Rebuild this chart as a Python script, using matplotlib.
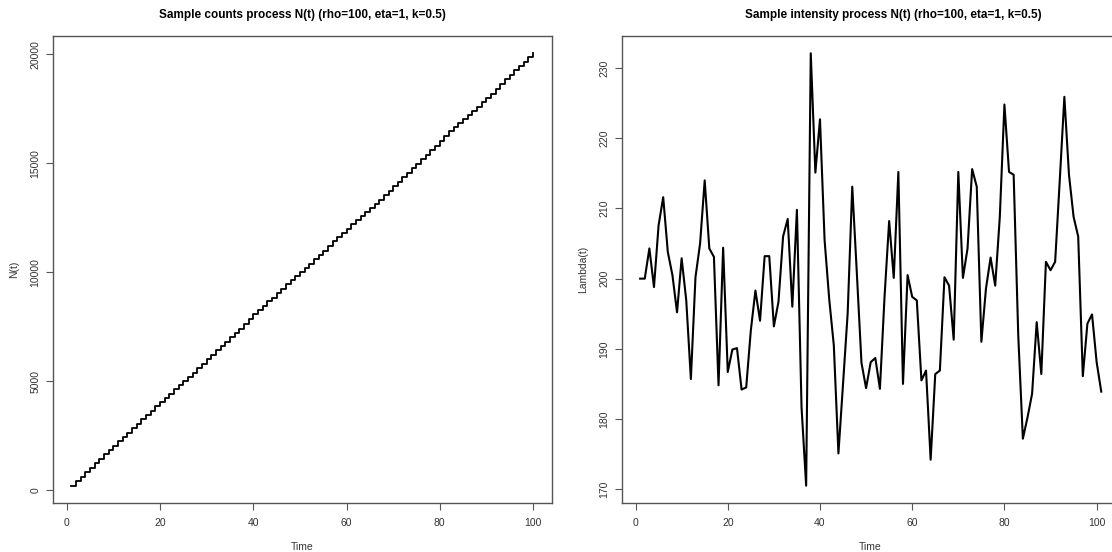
import matplotlib
matplotlib.use("Agg")
import matplotlib.pyplot as plt
import numpy as np

plt.rcParams["font.family"] = ["Liberation Sans", "DejaVu Sans"]

# intensity Lambda(t), t = 1..101
time_lambda = np.arange(1, 102)
lam = [
    200.0, 200.0, 204.3, 198.8, 207.6, 211.6, 203.8, 200.5, 195.2, 202.9,
    196.9, 185.7, 200.2, 205.0, 214.0, 204.3, 203.1, 184.8, 204.4, 186.7,
    189.9, 190.1, 184.2, 184.5, 192.6, 198.3, 194.0, 203.2, 203.2, 193.2,
    196.7, 206.0, 208.5, 196.0, 209.8, 181.7, 170.5, 232.1, 215.1, 222.7,
    205.5, 197.1, 190.5, 175.1, 185.0, 195.0, 213.1, 200.7, 188.0, 184.4,
    188.1, 188.7, 184.3, 197.4, 208.2, 200.1, 215.2, 185.0, 200.5, 197.4,
    196.9, 185.5, 186.9, 174.2, 186.4, 186.9, 200.2, 199.0, 191.3, 215.2,
    200.1, 204.3, 215.6, 213.1, 191.0, 198.6, 203.0, 199.0, 208.8, 224.8,
    215.2, 214.8, 191.9, 177.2, 180.2, 183.6, 193.8, 186.4, 202.4, 201.2,
    202.4, 214.0, 225.9, 214.8, 208.8, 206.0, 186.1, 193.6, 194.9, 188.1,
    183.9,
]

# counts per period, t = 1..100 (step heights of N(t))
time_counts = np.arange(1, 101)
counts = [
    202, 201, 206, 200, 210, 213, 206, 202, 197, 205,
    199, 188, 202, 207, 216, 206, 205, 187, 206, 189,
    192, 192, 186, 187, 195, 200, 196, 205, 205, 195,
    199, 208, 210, 198, 212, 184, 173, 234, 217, 225,
    208, 199, 193, 177, 187, 197, 215, 203, 190, 187,
    190, 191, 186, 200, 210, 202, 217, 187, 203, 199,
    199, 188, 189, 177, 188, 189, 202, 201, 194, 217,
    202, 206, 218, 215, 193, 201, 205, 201, 211, 227,
    217, 217, 194, 179, 182, 186, 196, 188, 205, 203,
    204, 216, 228, 217, 211, 208, 188, 196, 197, 190,
]
n_t = np.cumsum(counts)

W, H = 1112, 552
fig = plt.figure(figsize=(W / 100, H / 100), dpi=100)

spine_col = "#555555"
text_col = "#333333"

ax1 = fig.add_axes([53 / W, 49 / H, 498.5 / W, 467 / H])
ax2 = fig.add_axes([621.7 / W, 49 / H, 498 / W, 467 / H])

ax1.plot(time_counts, n_t, drawstyle="steps-post", color="black", lw=1.3)
ax2.plot(time_lambda, lam, color="black", lw=1.5)

ax1.set_xticks([0, 20, 40, 60, 80, 100])
ax1.set_yticks([0, 5000, 10000, 15000, 20000])
ax2.set_xticks([0, 20, 40, 60, 80, 100])
ax2.set_yticks([170, 180, 190, 200, 210, 220, 230])

for ax in (ax1, ax2):
    ax.margins(0.04)
    for s in ax.spines.values():
        s.set_color(spine_col)
        s.set_linewidth(1.0)
    ax.tick_params(direction="out", length=5, width=0.8, color=spine_col,
                   labelsize=7.5, labelcolor=text_col)
    ax.tick_params(axis="x", pad=6)
    ax.tick_params(axis="y", pad=4)
    for lbl in ax.get_yticklabels():
        lbl.set_rotation(90)
        lbl.set_va("center")
    ax.set_xlabel("Time", fontsize=7.5, color=text_col, labelpad=10)

ax1.set_ylabel("N(t)", fontsize=7.5, color=text_col, labelpad=8)
ax2.set_ylabel("Lambda(t)", fontsize=7.5, color=text_col, labelpad=8)

fig.text(302 / W, 1 - 15 / H, "Sample counts process N(t) (rho=100, eta=1, k=0.5)",
         ha="center", va="center", fontsize=8.5, fontweight="bold")
fig.text(893 / W, 1 - 15 / H, "Sample intensity process N(t) (rho=100, eta=1, k=0.5)",
         ha="center", va="center", fontsize=8.5, fontweight="bold")

fig.savefig("out.png", dpi=100)
